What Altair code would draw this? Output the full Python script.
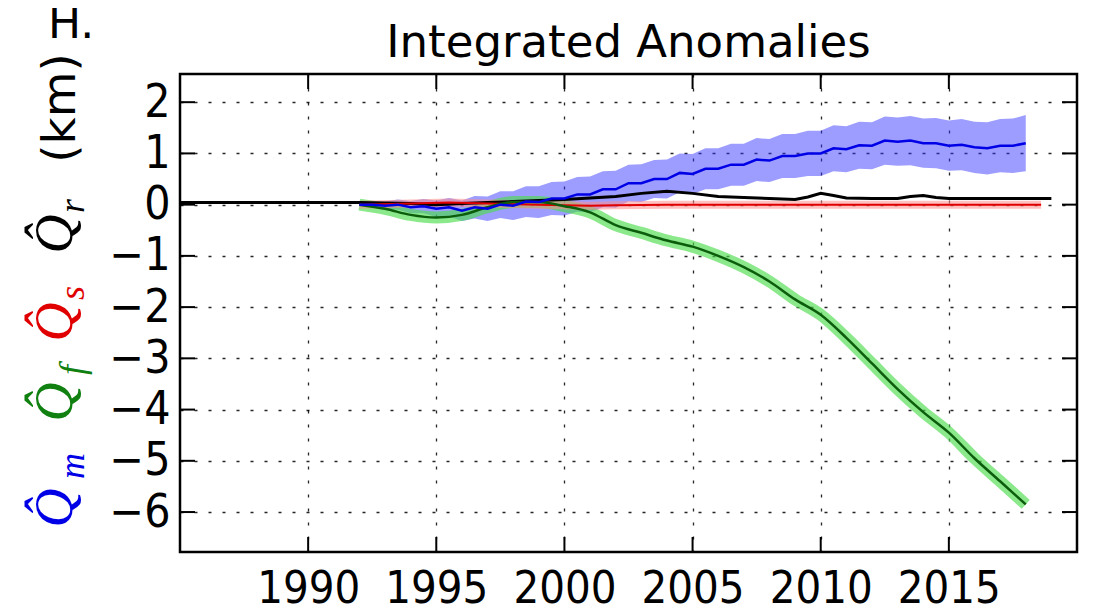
import altair as alt
import pandas as pd

# ---------------- data ----------------
years_m = [1992.0, 1992.5, 1993.0, 1993.5, 1994.0, 1994.5, 1995.0, 1995.5, 1996.0, 1996.5,
           1997.0, 1997.5, 1998.0, 1998.5, 1999.0, 1999.5, 2000.0, 2000.5, 2001.0, 2001.5,
           2002.0, 2002.5, 2003.0, 2003.5, 2004.0, 2004.5, 2005.0, 2005.5, 2006.0, 2006.5,
           2007.0, 2007.5, 2008.0, 2008.5, 2009.0, 2009.5, 2010.0, 2010.5, 2011.0, 2011.5,
           2012.0, 2012.5, 2013.0, 2013.5, 2014.0, 2014.5, 2015.0, 2015.5, 2016.0, 2016.5,
           2017.0, 2017.5, 2018.0]
q_m = [0.0, 0.0, -0.02, 0.0, -0.05, -0.03, -0.08, -0.05, -0.12, -0.05,
       -0.08, 0.0, -0.02, 0.06, 0.05, 0.12, 0.12, 0.2, 0.2, 0.3,
       0.3, 0.42, 0.42, 0.5, 0.5, 0.62, 0.6, 0.7, 0.7, 0.78,
       0.78, 0.88, 0.86, 0.95, 0.95, 1.0, 1.0, 1.1, 1.08, 1.16,
       1.15, 1.25, 1.23, 1.25, 1.2, 1.2, 1.15, 1.17, 1.12, 1.1,
       1.15, 1.15, 1.2]
q_m_halfwidth = [0.03, 0.06, 0.08, 0.1, 0.12, 0.14, 0.16, 0.18, 0.2, 0.22,
                 0.24, 0.26, 0.28, 0.3, 0.31, 0.32, 0.33, 0.34, 0.35, 0.35,
                 0.36, 0.36, 0.37, 0.37, 0.38, 0.38, 0.39, 0.4, 0.4, 0.41,
                 0.41, 0.42, 0.42, 0.43, 0.43, 0.44, 0.44, 0.45, 0.45, 0.46,
                 0.46, 0.47, 0.47, 0.48, 0.48, 0.49, 0.49, 0.5, 0.5, 0.51,
                 0.52, 0.53, 0.55]

years_f = [1992, 1993, 1994, 1995, 1996, 1997, 1998, 1999, 2000, 2001, 2002, 2003, 2004,
           2005, 2006, 2007, 2008, 2009, 2010, 2011, 2012, 2013, 2014, 2015, 2016, 2017, 2018]
q_f = [0.0, -0.08, -0.2, -0.25, -0.2, -0.05, 0.05, 0.05, -0.03, -0.15, -0.4, -0.55, -0.7,
       -0.82, -1.0, -1.22, -1.5, -1.85, -2.15, -2.6, -3.1, -3.6, -4.05, -4.45, -4.95, -5.4, -5.85]

years_s = [1992, 1994, 1995.5, 1997, 1999, 2001, 2002, 2004, 2008, 2012, 2016, 2018.6]
q_s = [0.0, 0.02, 0.04, 0.02, 0.0, -0.02, -0.01, 0.0, 0.0, 0.0, 0.0, 0.0]

years_r = [1985, 1992, 1993, 1994, 1995, 1996, 1997, 1998, 1999, 2000, 2001, 2002, 2003,
           2004, 2005, 2006, 2007, 2008, 2009, 2009.5, 2010, 2010.5, 2011, 2012, 2013,
           2013.5, 2014, 2014.5, 2015, 2016, 2017, 2018, 2019]
q_r = [0.04, 0.04, 0.03, 0.02, 0.0, 0.02, 0.04, 0.06, 0.08, 0.1, 0.13, 0.16, 0.22,
       0.26, 0.22, 0.16, 0.14, 0.12, 0.1, 0.15, 0.22, 0.18, 0.13, 0.12, 0.12,
       0.16, 0.18, 0.14, 0.12, 0.12, 0.12, 0.12, 0.12]

x_ticks = [1990, 1995, 2000, 2005, 2010, 2015]
y_ticks = [-6, -5, -4, -3, -2, -1, 0, 1, 2]

title_text = "Integrated Anomalies"
panel_label = "H."

# ---------------- tables ----------------
df_m = pd.DataFrame({"year": years_m, "v": q_m, "hw": q_m_halfwidth})
df_m["lo"] = df_m["v"] - df_m["hw"]
df_m["hi"] = df_m["v"] + df_m["hw"]
df_f = pd.DataFrame({"year": years_f, "v": q_f})
df_s = pd.DataFrame({"year": years_s, "v": q_s})
df_r = pd.DataFrame({"year": years_r, "v": q_r})
df_xt = pd.DataFrame({"year": x_ticks})
df_yt = pd.DataFrame({"v": y_ticks})
one = pd.DataFrame({"a": [0]})

W, H = 897, 478
OX, OY = 180, 74  # absolute position of plot area (for annotations)
FONT = "DejaVu Sans"
LABFONT = "DejaVu Sans Condensed, DejaVu Sans"
MATHFONT = "Liberation Serif"

xs = alt.Scale(domain=[1985, 2020], nice=False, zero=False)
ys = alt.Scale(domain=[-6.78, 2.55], nice=False, zero=False)

grid_kw = dict(grid=True, gridDash=[3, 11], gridColor="black", gridWidth=1.3, gridOpacity=0.85,
               ticks=False, domain=False, title=None, format="d", labelOverlap=False,
               labelFont=LABFONT, labelColor="black")

x_axis = alt.Axis(values=x_ticks, labelPadding=14, labelFontSize=45, **grid_kw)
y_axis = alt.Axis(values=y_ticks, labelPadding=10, labelFontSize=46, **grid_kw)
Xn = alt.X("year:Q", scale=xs, axis=x_axis)
Yn = alt.Y("v:Q", scale=ys, axis=y_axis)

band_m = alt.Chart(df_m).mark_area(color="#3333ff", opacity=0.48).encode(
    x=Xn, y=alt.Y("lo:Q", scale=ys, axis=y_axis), y2="hi:Q")
band_f = alt.Chart(df_f).mark_line(color="#4ddb4d", opacity=0.65, strokeWidth=12,
                                   interpolate="monotone").encode(x=Xn, y=Yn)
band_s = alt.Chart(df_s).mark_line(color="#ff8c8c", opacity=0.55, strokeWidth=8).encode(x=Xn, y=Yn)

line_r = alt.Chart(df_r).mark_line(color="black", strokeWidth=3).encode(x=Xn, y=Yn)
line_s = alt.Chart(df_s).mark_line(color="#e00000", strokeWidth=2).encode(x=Xn, y=Yn)
line_f = alt.Chart(df_f).mark_line(color="#0b5d0b", strokeWidth=2.5,
                                   interpolate="monotone").encode(x=Xn, y=Yn)
line_m = alt.Chart(df_m).mark_line(color="#0000e6", strokeWidth=2.5).encode(x=Xn, y=Yn)

TL = 15
tick_kw = dict(color="black", strokeWidth=2)
t_bottom = alt.Chart(df_xt).mark_rule(**tick_kw).encode(x=Xn, y=alt.value(H - TL), y2=alt.value(H))
t_top = alt.Chart(df_xt).mark_rule(**tick_kw).encode(x=Xn, y=alt.value(0), y2=alt.value(TL))
t_left = alt.Chart(df_yt).mark_rule(**tick_kw).encode(y=Yn, x=alt.value(0), x2=alt.value(TL))
t_right = alt.Chart(df_yt).mark_rule(**tick_kw).encode(y=Yn, x=alt.value(W - TL), x2=alt.value(W))


def txt(text, ax, ay, color="black", size=46, angle=None, italic=False, align="center", font=FONT):
    kw = dict(text=text, color=color, fontSize=size, font=font, align=align, baseline="alphabetic")
    if angle is not None:
        kw["angle"] = angle
    if italic:
        kw["fontStyle"] = "italic"
    return alt.Chart(one).mark_text(**kw).encode(x=alt.value(ax - OX), y=alt.value(ay - OY))


title = txt(title_text, OX + W / 2, 57, size=45)
hlabel = txt(panel_label, 48, 38, size=44, align="left")

QB, SB = 72, 84   # baselines (absolute x) of the rotated Q's and their subscripts
QS, SS = 54, 36
ylabel = [
    txt("(km)", 75, 108, size=47, angle=270),
    txt("Q\u0302", QB, 234, color="black", size=QS, angle=270, italic=True, font=MATHFONT),
    txt("r", SB, 206, color="black", size=SS, angle=270, italic=True, font=MATHFONT),
    txt("Q\u0302", QB, 322, color="#e00000", size=QS, angle=270, italic=True, font=MATHFONT),
    txt("s", SB, 293, color="#e00000", size=SS, angle=270, italic=True, font=MATHFONT),
    txt("Q\u0302", QB, 402, color="#108010", size=QS, angle=270, italic=True, font=MATHFONT),
    txt("f", SB, 370, color="#108010", size=SS, angle=270, italic=True, font=MATHFONT),
    txt("Q\u0302", QB, 508, color="#0000e6", size=QS, angle=270, italic=True, font=MATHFONT),
    txt("m", SB, 466, color="#0000e6", size=SS, angle=270, italic=True, font=MATHFONT),
]

chart = alt.layer(
    band_m, band_f, band_s, line_r, line_s, line_f, line_m,
    t_bottom, t_top, t_left, t_right, title, hlabel, *ylabel
).properties(
    width=W, height=H,
    padding={"left": OX - 8, "top": OY - 8, "right": 8, "bottom": 52},
    autosize=alt.AutoSizeParams(type="none"),
).configure_view(
    stroke="black", strokeWidth=2.5
)

chart.save("out.html", embed_options={"renderer": "svg", "actions": False})
